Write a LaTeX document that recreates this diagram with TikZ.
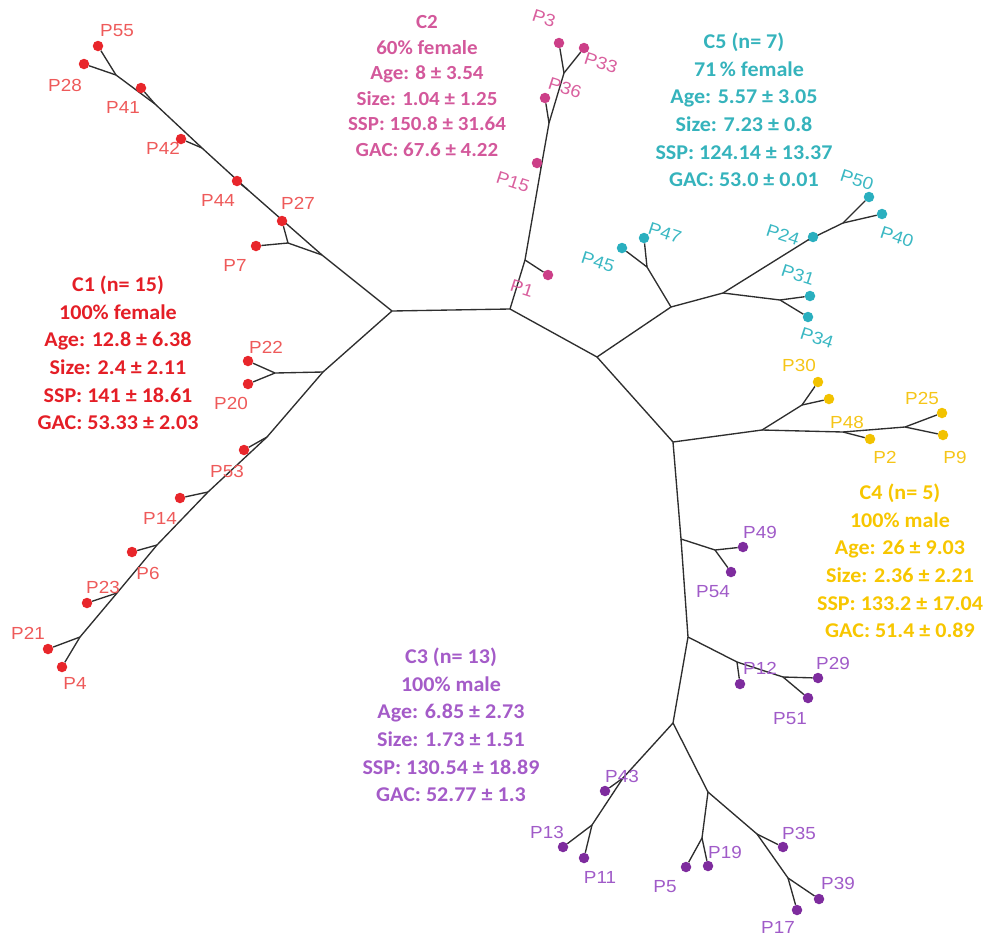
\documentclass[tikz,border=0pt]{standalone}
\usepackage{fontspec}
\setmainfont{Carlito}
\newfontfamily\leaffont{Liberation Sans}[FakeStretch=1.08]
\newfontfamily\blockfont{Carlito}[FakeStretch=1.05]
\usetikzlibrary{backgrounds}
\definecolor{cAtext}{HTML}{E41E26}
\definecolor{cAdot}{HTML}{E8262B}
\definecolor{cAlab}{HTML}{EE5A5A}
\definecolor{cBtext}{HTML}{D3589B}
\definecolor{cBdot}{HTML}{CC3F88}
\definecolor{cBlab}{HTML}{D9609E}
\definecolor{cEtext}{HTML}{35B3BC}
\definecolor{cEdot}{HTML}{2AAFBF}
\definecolor{cElab}{HTML}{3BB8C3}
\definecolor{cDtext}{HTML}{F7C600}
\definecolor{cDdot}{HTML}{F2C200}
\definecolor{cDlab}{HTML}{F5C518}
\definecolor{cCtext}{HTML}{A45BC8}
\definecolor{cCdot}{HTML}{7E2C9E}
\definecolor{cClab}{HTML}{A05BC8}
\definecolor{branch}{HTML}{2E2E2E}
\tikzset{
  edge/.style={draw=branch, line width=1.35pt},
  leafdot/.style={circle, inner sep=0pt, minimum size=10.5pt},
  dA/.style={leafdot, fill=cAdot}, dB/.style={leafdot, fill=cBdot},
  dE/.style={leafdot, fill=cEdot}, dD/.style={leafdot, fill=cDdot},
  dC/.style={leafdot, fill=cCdot},
  lab/.style={inner sep=0pt, font=\leaffont\fontsize{17.5}{17.5}\selectfont},
  lA/.style={lab, text=cAlab}, lB/.style={lab, text=cBlab, rotate=-18},
  lE/.style={lab, text=cElab, rotate=-18}, lD/.style={lab, text=cDlab},
  lC/.style={lab, text=cClab},
  block/.style={align=center, inner sep=0pt, font=\blockfont\bfseries\fontsize{21}{27.6}\selectfont},
}
\begin{document}
\begin{tikzpicture}[x=1pt,y=-1pt]
\useasboundingbox (0,0) rectangle (984,937);
% internal points
\coordinate (A) at (392,311); \coordinate (B) at (510,309);
\coordinate (C) at (597,357); \coordinate (E5) at (671,307);
\coordinate (D) at (673,442);
\coordinate (a1) at (322,255); \coordinate (a2) at (288,243);
\coordinate (a3) at (248,190); \coordinate (a4) at (202,148);
\coordinate (a5) at (155,104); \coordinate (a6) at (116,75);
\coordinate (b1) at (323,372); \coordinate (b2) at (275,373);
\coordinate (b3) at (267,437); \coordinate (b4) at (208,492);
\coordinate (b5) at (157,545); \coordinate (b6) at (117,593);
\coordinate (b7) at (80,637);
\coordinate (c1) at (525,260); \coordinate (c15) at (541,168);
\coordinate (c2) at (549,123); \coordinate (c3) at (564,73);
\coordinate (e1) at (647,267); \coordinate (e2) at (723,293);
\coordinate (e3) at (780,300); \coordinate (e24) at (808,240);
\coordinate (e4) at (843,223);
\coordinate (f1) at (762,430); \coordinate (f2) at (802,405);
\coordinate (f3) at (843,432); \coordinate (f4) at (905,427);
\coordinate (g1) at (681,539); \coordinate (g2) at (715,550);
\coordinate (g3) at (688,637); \coordinate (g4) at (737,662);
\coordinate (g5) at (783,677); \coordinate (g6) at (673,723);
\coordinate (g7) at (623,778); \coordinate (g8) at (592,825);
\coordinate (g9) at (708,792); \coordinate (g10) at (702,838);
\coordinate (g11) at (757,834); \coordinate (g12) at (788,878);
% C1 leaves
\node[dA] (P7) at (256,246) {}; \node[dA] (P27) at (282,221) {};
\node[dA] (P44) at (237,181) {}; \node[dA] (P42) at (181,139) {};
\node[dA] (P41) at (141,88) {}; \node[dA] (P28) at (84,64) {};
\node[dA] (P55) at (98,46) {};
\node[dA] (P22) at (248,361) {}; \node[dA] (P20) at (248,384) {};
\node[dA] (P53) at (244,450) {}; \node[dA] (P14) at (180,498) {};
\node[dA] (P6) at (132,552) {}; \node[dA] (P23) at (87,603) {};
\node[dA] (P21) at (48,649) {}; \node[dA] (P4) at (62,667) {};
% C2 leaves
\node[dB] (P1) at (548,275) {}; \node[dB] (P15) at (537,163) {};
\node[dB] (P36) at (545,98) {}; \node[dB] (P3) at (559,43) {};
\node[dB] (P33) at (584,48) {};
% C5 leaves
\node[dE] (P45) at (622,248) {}; \node[dE] (P47) at (644,238) {};
\node[dE] (P31) at (810,296) {}; \node[dE] (P34) at (808,317) {};
\node[dE] (P24) at (813,237) {}; \node[dE] (P50) at (869,197) {};
\node[dE] (P40) at (882,214) {};
% C4 leaves
\node[dD] (P30) at (818,382) {}; \node[dD] (P48) at (829,399) {};
\node[dD] (P2) at (870,439) {}; \node[dD] (P25) at (942,413) {};
\node[dD] (P9) at (943,435) {};
% C3 leaves
\node[dC] (P49) at (743,547) {}; \node[dC] (P54) at (731,572) {};
\node[dC] (P12) at (740,684) {}; \node[dC] (P29) at (818,678) {};
\node[dC] (P51) at (808,698) {}; \node[dC] (P43) at (605,791) {};
\node[dC] (P13) at (563,847) {}; \node[dC] (P11) at (584,858) {};
\node[dC] (P5) at (686,867) {}; \node[dC] (P19) at (708,866) {};
\node[dC] (P35) at (783,847) {}; \node[dC] (P39) at (819,899) {};
\node[dC] (P17) at (797,910) {};
% labels
\node[lA] (lP55) at (117,31) {P55}; \node[lA] (lP28) at (65,85) {P28};
\node[lA] (lP41) at (123,107) {P41}; \node[lA] (lP42) at (163,148) {P42};
\node[lA] (lP44) at (218,200) {P44}; \node[lA] (lP27) at (298,203) {P27};
\node[lA] (lP7) at (235,265) {P7}; \node[lA] (lP22) at (266,347) {P22};
\node[lA] (lP20) at (231,403) {P20}; \node[lA] (lP53) at (227,471) {P53};
\node[lA] (lP14) at (160,518) {P14}; \node[lA] (lP6) at (148,573) {P6};
\node[lA] (lP23) at (103,587) {P23}; \node[lA] (lP21) at (28,633) {P21};
\node[lA] (lP4) at (75,683) {P4};
\node[lB] (lP3) at (544,18) {P3}; \node[lB] (lP33) at (601,63) {P33};
\node[lB] (lP36) at (565,88) {P36}; \node[lB] (lP15) at (513,182) {P15};
\node[lB] (lP1) at (522,288) {P1};
\node[lE] (lP45) at (598,262) {P45}; \node[lE] (lP47) at (665,233) {P47};
\node[lE] (lP24) at (783,235) {P24}; \node[lE] (lP31) at (798,275) {P31};
\node[lE] (lP34) at (817,338) {P34}; \node[lE] (lP40) at (897,237) {P40};
\node[lE] (lP50) at (857,180) {P50};
\node[lD] (lP30) at (799,365) {P30}; \node[lD] (lP48) at (847,422) {P48};
\node[lD] (lP25) at (922,398) {P25}; \node[lD] (lP2) at (885,457) {P2};
\node[lD] (lP9) at (955,457) {P9};
\node[lC] (lP49) at (760,532) {P49}; \node[lC] (lP54) at (713,592) {P54};
\node[lC] (lP12) at (760,668) {P12}; \node[lC] (lP29) at (833,663) {P29};
\node[lC] (lP51) at (790,719) {P51}; \node[lC] (lP43) at (622,776) {P43};
\node[lC] (lP13) at (547,832) {P13}; \node[lC] (lP11) at (600,877) {P11};
\node[lC] (lP5) at (665,887) {P5}; \node[lC] (lP19) at (725,852) {P19};
\node[lC] (lP35) at (799,833) {P35}; \node[lC] (lP39) at (838,883) {P39};
\node[lC] (lP17) at (778,927) {P17};
% cluster text blocks
\node[block, text=cAtext] (tC1) at (118,353) {C1 (n= 15)\\100\% female\\Age: 12.8 ± 6.38\\Size: 2.4 ± 2.11\\SSP: 141 ± 18.61\\GAC: 53.33 ± 2.03};
\node[block, text=cBtext, font=\blockfont\bfseries\fontsize{20}{25.6}\selectfont] (tC2) at (427,86) {C2\\60\% female\\Age: 8 ± 3.54\\Size: 1.04 ± 1.25\\SSP: 150.8 ± 31.64\\GAC: 67.6 ± 4.22};
\node[block, text=cEtext] (tC5) at (744,110) {C5 (n= 7)\\\ \ 71\,\% female\\Age: 5.57 ± 3.05\\Size: 7.23 ± 0.8\\SSP: 124.14 ± 13.37\\GAC: 53.0 ± 0.01};
\node[block, text=cDtext] (tC4) at (900,561) {C4 (n= 5)\\100\% male\\Age: 26 ± 9.03\\Size: 2.36 ± 2.21\\SSP: 133.2 ± 17.04\\GAC: 51.4 ± 0.89};
\node[block, text=cCtext] (tC3) at (451,725) {C3 (n= 13)\\100\% male\\Age: 6.85 ± 2.73\\Size: 1.73 ± 1.51\\SSP: 130.54 ± 18.89\\GAC: 52.77 ± 1.3};
% branches
\begin{pgfonlayer}{background}
\draw[edge] (A) -- (B) -- (C) -- (E5);
\draw[edge] (C) -- (D);
\draw[edge] (A) -- (a1) -- (a2) -- (P7); \draw[edge] (a2) -- (P27);
\draw[edge] (a1) -- (a3) -- (a4) -- (a5) -- (a6) -- (P28);
\draw[edge] (a3) -- (P44); \draw[edge] (a4) -- (P42);
\draw[edge] (a5) -- (P41); \draw[edge] (a6) -- (P55);
\draw[edge] (A) -- (b1) -- (b2) -- (P22); \draw[edge] (b2) -- (P20);
\draw[edge] (b1) -- (b3) -- (b4) -- (b5) -- (b6) -- (b7) -- (P21);
\draw[edge] (b7) -- (P4); \draw[edge] (b3) -- (P53);
\draw[edge] (b4) -- (P14); \draw[edge] (b5) -- (P6); \draw[edge] (b6) -- (P23);
\draw[edge] (B) -- (c1) -- (c15) -- (c2) -- (c3) -- (P3);
\draw[edge] (c1) -- (P1); \draw[edge] (c15) -- (P15);
\draw[edge] (c2) -- (P36); \draw[edge] (c3) -- (P33);
\draw[edge] (E5) -- (e1) -- (P45); \draw[edge] (e1) -- (P47);
\draw[edge] (E5) -- (e2) -- (e3) -- (P31); \draw[edge] (e3) -- (P34);
\draw[edge] (e2) -- (e24) -- (e4) -- (P50); \draw[edge] (e24) -- (P24);
\draw[edge] (e4) -- (P40);
\draw[edge] (D) -- (f1) -- (f2) -- (P30); \draw[edge] (f2) -- (P48);
\draw[edge] (f1) -- (f3) -- (f4) -- (P25); \draw[edge] (f3) -- (P2);
\draw[edge] (f4) -- (P9);
\draw[edge] (D) -- (g1) -- (g2) -- (P49); \draw[edge] (g2) -- (P54);
\draw[edge] (g1) -- (g3) -- (g4) -- (g5) -- (P29);
\draw[edge] (g4) -- (P12); \draw[edge] (g5) -- (P51);
\draw[edge] (g3) -- (g6) -- (g7) -- (g8) -- (P13);
\draw[edge] (g7) -- (P43); \draw[edge] (g8) -- (P11);
\draw[edge] (g6) -- (g9) -- (g10) -- (P5); \draw[edge] (g10) -- (P19);
\draw[edge] (g9) -- (g11) -- (g12) -- (P39);
\draw[edge] (g11) -- (P35); \draw[edge] (g12) -- (P17);
\end{pgfonlayer}
\end{tikzpicture}
\end{document}
